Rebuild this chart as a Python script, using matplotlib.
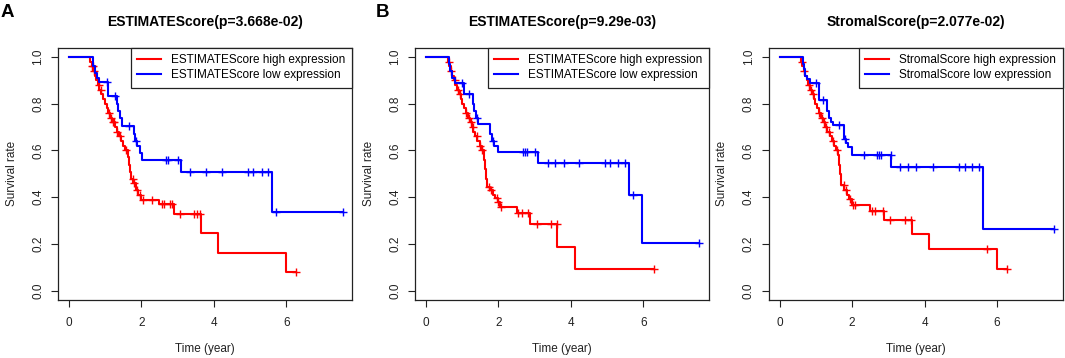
import numpy as np
import matplotlib
matplotlib.use("Agg")
import matplotlib.pyplot as plt

plt.rcParams['font.family'] = ['Liberation Sans', 'DejaVu Sans']

panel_letters = ["A", "B", ""]
titles = ["ESTIMATEScore(p=3.668e-02)", "ESTIMATEScore(p=9.29e-03)", "StromalScore(p=2.077e-02)"]
score_names = ["ESTIMATEScore", "ESTIMATEScore", "StromalScore"]

# ---- Panel A ----
a_high_t = [0.59,0.63,0.67,0.71,0.75,0.79,0.84,0.89,0.94,0.99,1.04,1.09,1.14,1.20,1.26,1.32,1.38,1.44,1.50,1.56,
            1.64,1.66,1.68,1.70,1.78,1.85,1.90,2.00,2.49,2.90,3.65,4.11,5.99]
a_high_s = [0.98,0.96,0.94,0.92,0.90,0.88,0.86,0.84,0.82,0.80,0.78,0.76,0.74,0.72,0.70,0.68,0.66,0.64,0.62,0.60,
            0.57,0.54,0.51,0.48,0.46,0.43,0.41,0.39,0.37,0.327,0.245,0.163,0.08]
a_high_c = [0.64,0.66,0.70,0.82,0.88,1.10,1.15,1.22,1.24,1.33,1.41,1.58,1.76,1.80,1.88,1.95,2.04,2.29,2.57,2.63,
            2.79,2.84,3.07,3.44,3.53,3.62,6.27]
a_low_t = [0.66,0.72,0.77,0.82,1.09,1.32,1.36,1.41,1.46,1.79,1.83,1.88,1.95,2.03,3.10,5.60]
a_low_s = [0.96,0.93,0.91,0.894,0.833,0.80,0.77,0.74,0.706,0.67,0.64,0.62,0.59,0.56,0.509,0.338]
a_low_c = [1.05,1.28,1.66,1.84,2.67,2.73,3.02,3.33,3.79,4.22,4.93,5.09,5.32,5.50,5.72,7.57]

# ---- Panel B ----
b_high_t = [0.61,0.65,0.69,0.73,0.77,0.81,0.86,0.91,0.96,1.01,1.06,1.11,1.16,1.21,1.26,1.31,1.36,1.42,1.48,1.54,
            1.59,1.62,1.65,1.68,1.76,1.84,1.92,1.98,2.05,2.51,2.88,3.63,4.12]
b_high_s = [0.98,0.96,0.94,0.92,0.90,0.88,0.86,0.84,0.82,0.80,0.78,0.76,0.74,0.72,0.70,0.68,0.66,0.64,0.62,0.60,
            0.56,0.52,0.48,0.445,0.43,0.41,0.395,0.38,0.357,0.331,0.284,0.188,0.093]
b_high_c = [0.64,0.70,0.80,0.88,0.93,1.12,1.18,1.24,1.30,1.40,1.50,1.56,1.73,1.80,1.96,2.00,2.08,2.55,2.65,2.83,
            3.06,3.45,3.61,6.30]
b_low_t = [0.63,0.67,0.73,0.79,1.04,1.29,1.34,1.39,1.45,1.78,1.83,1.88,2.00,3.09,5.59,5.97]
b_low_s = [0.97,0.94,0.91,0.888,0.84,0.80,0.77,0.74,0.712,0.67,0.64,0.621,0.592,0.546,0.409,0.205]
b_low_c = [1.00,1.20,1.40,1.86,2.69,2.74,2.78,3.01,3.38,3.57,3.80,4.23,4.93,5.08,5.31,5.49,5.72,7.54]

# ---- Panel C ----
c_high_t = [0.59,0.63,0.67,0.71,0.75,0.79,0.84,0.89,0.94,0.99,1.04,1.09,1.14,1.20,1.26,1.32,1.38,1.44,1.50,1.56,
            1.60,1.63,1.66,1.69,1.79,1.85,1.91,2.00,2.50,2.89,3.65,4.11,6.00]
c_high_s = [0.98,0.96,0.94,0.92,0.90,0.88,0.86,0.84,0.82,0.80,0.78,0.76,0.74,0.72,0.70,0.68,0.66,0.64,0.62,0.60,
            0.58,0.54,0.50,0.452,0.43,0.41,0.391,0.367,0.341,0.302,0.242,0.18,0.092]
c_high_c = [0.62,0.68,0.80,0.86,0.92,1.10,1.16,1.22,1.28,1.36,1.48,1.58,1.77,1.84,1.95,2.02,2.07,2.55,2.64,2.84,
            3.05,3.45,3.63,5.72,6.26]
c_low_t = [0.64,0.67,0.71,0.77,0.83,1.08,1.31,1.36,1.41,1.47,1.78,1.83,1.90,2.01,3.08,5.60]
c_low_s = [0.97,0.95,0.92,0.905,0.89,0.816,0.77,0.74,0.72,0.707,0.65,0.63,0.613,0.582,0.53,0.264]
c_low_c = [1.01,1.21,1.63,1.80,2.32,2.69,2.73,2.80,3.06,3.33,3.53,3.77,4.23,4.94,5.11,5.31,5.50,7.56]

panels = [
    ((a_high_t, a_high_s, a_high_c), (a_low_t, a_low_s, a_low_c)),
    ((b_high_t, b_high_s, b_high_c), (b_low_t, b_low_s, b_low_c)),
    ((c_high_t, c_high_s, c_high_c), (c_low_t, c_low_s, c_low_c)),
]

W, H = 1065, 358
fig = plt.figure(figsize=(W / 100, H / 100), dpi=100)
lefts = [58, 415, 768.7]
letter_x = [1, 376, None]
ax_w, ax_top, ax_bot = 294, 47.7, 300


def draw_curve(ax, t, s, c, color, label):
    t = np.asarray(t); s = np.asarray(s); c = np.asarray(c)
    end = max(c.max(), t.max())
    xs = np.concatenate([[0.0], t, [end]])
    ys = np.concatenate([[1.0], s, [s[-1]]])
    ax.step(xs, ys, where='post', color=color, lw=1.5, label=label)
    idx = np.searchsorted(t, c, side='right')
    cy = np.where(idx == 0, 1.0, s[np.maximum(idx - 1, 0)])
    ax.plot(c, cy, linestyle='none', marker='+', color=color, ms=6, mew=1.0)


for i, ((ht, hs, hc), (lt, ls, lc)) in enumerate(panels):
    ax = fig.add_axes([lefts[i] / W, (H - ax_bot) / H, ax_w / W, (ax_bot - ax_top) / H])
    draw_curve(ax, ht, hs, hc, '#FF0000', f"{score_names[i]} high expression")
    draw_curve(ax, lt, ls, lc, '#0000FF', f"{score_names[i]} low expression")
    ax.set_xlim(-0.3, 7.81)
    ax.set_ylim(-0.04, 1.04)
    ax.set_xticks([0, 2, 4, 6])
    ax.set_yticks([0.0, 0.2, 0.4, 0.6, 0.8, 1.0])
    ax.set_yticklabels(["0.0", "0.2", "0.4", "0.6", "0.8", "1.0"])
    ax.tick_params(direction='out', length=5, width=0.8, labelsize=8.5, pad=7, colors='#222222')
    ax.tick_params(axis='y', labelrotation=90, pad=5)
    for lbl in ax.get_yticklabels():
        lbl.set_va('center')
    for sp in ax.spines.values():
        sp.set_linewidth(0.9)
        sp.set_color('#222222')
    ax.set_xlabel("Time (year)", fontsize=8.5, color='#222222')
    ax.set_ylabel("Survival rate", fontsize=8.5, color='#222222')
    ax.xaxis.set_label_coords(0.5, (ax_bot - 349) / (ax_bot - ax_top))
    ax.xaxis.label.set_va('center')
    ax.yaxis.set_label_coords(-0.158, 0.5)
    ax.yaxis.label.set_va('center')
    ax.text(0.5, 1 + (ax_top - 22) / (ax_bot - ax_top), titles[i], transform=ax.transAxes,
            ha='center', va='center', fontsize=10, fontweight='bold')
    leg = ax.legend(loc='upper right', borderaxespad=0, fancybox=False, framealpha=1,
                    edgecolor='#222222', fontsize=8.5, handlelength=2.0, handletextpad=0.9,
                    labelspacing=0.25, borderpad=0.55)
    leg.get_frame().set_linewidth(0.9)
    if panel_letters[i]:
        fig.text(letter_x[i] / W, 1 - 12.5 / H, panel_letters[i], fontsize=13.5, fontweight='bold',
                 ha='left', va='center')

fig.savefig("out.png", dpi=100)
